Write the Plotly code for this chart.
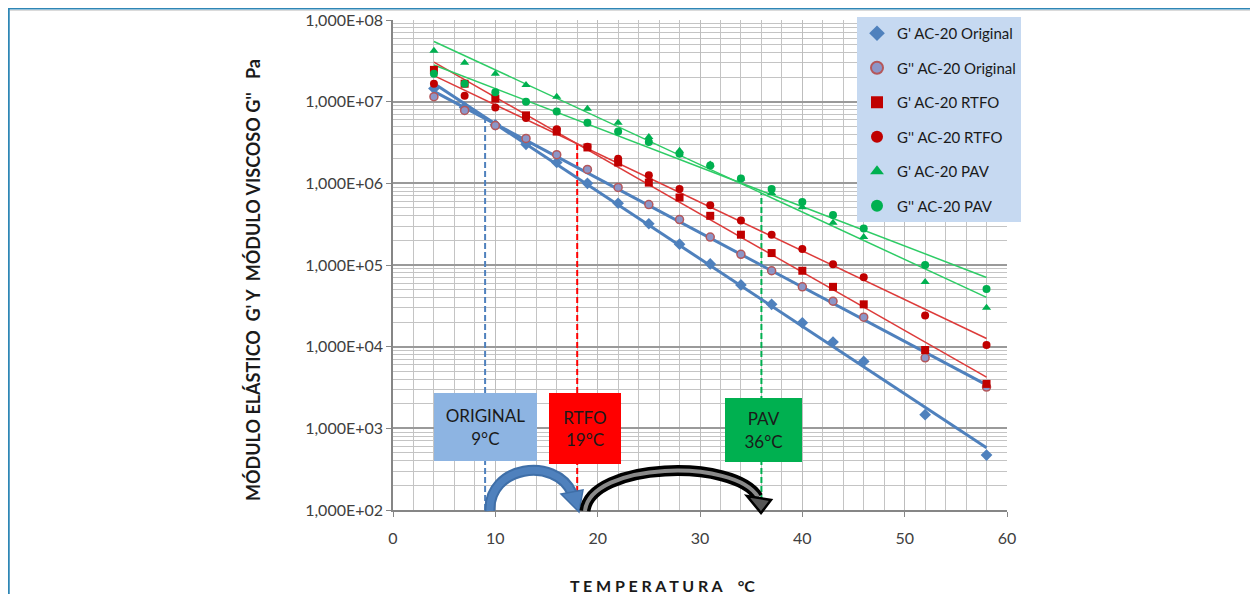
import numpy as np
import plotly.graph_objects as go

# ---------------- data ----------------
temperature = [4, 7, 10, 13, 16, 19, 22, 25, 28, 31, 34, 37, 40, 43, 46, 52, 58]

g1_original = [1.45e7, 8.5e6, 5.2e6, 3.0e6, 1.8e6, 1.0e6, 5.7e5, 3.2e5, 1.8e5, 1.03e5,
               5.7e4, 3.3e4, 1.96e4, 1.14e4, 6.6e3, 1.47e3, 4.7e2]
g2_original = [1.15e7, 7.8e6, 5.1e6, 3.55e6, 2.24e6, 1.48e6, 8.9e5, 5.5e5, 3.6e5, 2.2e5,
               1.35e5, 8.5e4, 5.4e4, 3.6e4, 2.3e4, 7.3e3, 3.2e3]
g1_rtfo = [2.45e7, 1.66e7, 1.09e7, 6.8e6, 4.3e6, 2.75e6, 1.8e6, 1.02e6, 6.7e5, 4.0e5,
           2.35e5, 1.4e5, 8.5e4, 5.4e4, 3.3e4, 9.1e3, 3.5e3]
g2_rtfo = [1.66e7, 1.18e7, 8.5e6, 6.3e6, 4.6e6, 2.8e6, 2.0e6, 1.26e6, 8.5e5, 5.4e5,
           3.5e5, 2.35e5, 1.57e5, 1.02e5, 7.1e4, 2.4e4, 1.05e4]
g1_pav = [4.2e7, 3.0e7, 2.2e7, 1.6e7, 1.15e7, 8.2e6, 5.5e6, 3.7e6, 2.5e6, 1.7e6,
          1.15e6, 7.6e5, 5.1e5, 3.3e5, 2.2e5, 6.2e4, 3.0e4]
g2_pav = [2.2e7, 1.66e7, 1.3e7, 1.0e7, 7.6e6, 5.5e6, 4.3e6, 3.2e6, 2.3e6, 1.65e6,
          1.15e6, 8.5e5, 5.9e5, 4.1e5, 2.8e5, 1.0e5, 5.1e4]

series_names = ["G' AC-20 Original", "G'' AC-20 Original", "G' AC-20 RTFO",
                "G'' AC-20 RTFO", "G' AC-20 PAV", "G'' AC-20 PAV"]

crit_temps = [9, 18, 36]
box_labels = ["ORIGINAL<br>9°C", "RTFO<br>19°C", "PAV<br>36°C"]

y_tickvals = [1e2, 1e3, 1e4, 1e5, 1e6, 1e7, 1e8]
y_ticktext = ["1,000E+02", "1,000E+03", "1,000E+04", "1,000E+05",
              "1,000E+06", "1,000E+07", "1,000E+08"]
x_tickvals = [0, 10, 20, 30, 40, 50, 60]

# ---------------- layout geometry ----------------
OFF = 8                      # page body margin of the html page
W, H = 1258 - OFF, 594 - OFF
PLOT_L, PLOT_R, PLOT_T, PLOT_B = 393, 1007, 20, 510   # page coordinates
ML, MR = PLOT_L - OFF, W - (PLOT_R - OFF)
MT, MB = PLOT_T - OFF, H - (PLOT_B - OFF)
PW, PH = PLOT_R - PLOT_L, PLOT_B - PLOT_T
XMIN, XMAX = 0, 60


def px_to_x(px):
    return XMIN + (px - PLOT_L) / PW * (XMAX - XMIN)


def px_to_paper(px):
    return (px - PLOT_L) / PW


def py_to_paper(py):
    return (PLOT_B - py) / PH


def path_from_px(cmds):
    out = []
    for c in cmds:
        if isinstance(c, str):
            out.append(c)
        else:
            out.append(f"{px_to_x(c[0]):.4f},{py_to_paper(c[1]):.5f}")
    return " ".join(out)


# ---------------- styles ----------------
series = [
    (g1_original, dict(symbol="diamond", size=9, color="#4F81BD"), "#4F81BD", 3),
    (g2_original, dict(symbol="circle", size=8, color="#8C96C8",
                       line=dict(color="#B5575A", width=1.5)), "#4F81BD", 3),
    (g1_rtfo, dict(symbol="square", size=8, color="#C00000"), "#DD3B3A", 1.5),
    (g2_rtfo, dict(symbol="circle", size=8, color="#C00000"), "#DD3B3A", 1.5),
    (g1_pav, dict(symbol="triangle-up", size=8, color="#00B050"), "#2ECC66", 1.5),
    (g2_pav, dict(symbol="circle", size=8, color="#00B050"), "#2ECC66", 1.5),
]

fig = go.Figure()

T = np.array(temperature, dtype=float)
fits = [np.polyfit(T, np.log10(np.array(vals)), 1) for vals, _, _, _ in series]

# dashed critical temperature lines (up to the G' trendline of each state)
dash_colors = ["#4F81BD", "#FF0000", "#00B050"]
gprime_fit_idx = [0, 2, 4]
for t, col, fi in zip(crit_temps, dash_colors, gprime_fit_idx):
    top = 10 ** np.polyval(fits[fi], t)
    fig.add_trace(go.Scatter(x=[t, t], y=[y_tickvals[0], top], mode="lines",
                             line=dict(color=col, width=2, dash="6px,3px"),
                             showlegend=False, hoverinfo="skip"))

# exponential trendlines
tmin, tmax = min(temperature), max(temperature)
for (vals, mk, lcol, lw), coef in zip(series, fits):
    fig.add_trace(go.Scatter(x=[tmin, tmax],
                             y=[10 ** np.polyval(coef, tmin), 10 ** np.polyval(coef, tmax)],
                             mode="lines", line=dict(color=lcol, width=lw),
                             showlegend=False, hoverinfo="skip"))

# markers
for i, ((vals, mk, lcol, lw), name) in enumerate(zip(series, series_names)):
    fig.add_trace(go.Scatter(x=temperature, y=vals, mode="markers", name=name,
                             marker=mk, legendgroup=f"g{i}"))

# ---------------- axes ----------------
fig.update_xaxes(range=[XMIN, XMAX], tickvals=x_tickvals, showgrid=True,
                 gridcolor="#BDBDBD", gridwidth=1,
                 minor=dict(dtick=2, showgrid=True, gridcolor="#C4C4C4", gridwidth=1),
                 ticks="outside", ticklen=5, tickcolor="#868686",
                 showline=True, linecolor="#868686", linewidth=1.5,
                 zeroline=False, ticklabelstandoff=8,
                 tickfont=dict(family="Lato", size=16, color="#404040"))
fig.update_yaxes(type="log", range=[2, 8], tickvals=y_tickvals, ticktext=y_ticktext,
                 showgrid=True, gridcolor="#9A9A9A", gridwidth=1.5,
                 minor=dict(dtick="D1", showgrid=True, gridcolor="#C4C4C4", gridwidth=1),
                 ticks="outside", ticklen=5, tickcolor="#868686",
                 showline=True, linecolor="#868686", linewidth=1.5,
                 tickfont=dict(family="Lato", size=16, color="#404040"))

# ---------------- annotations ----------------
NB = "\u00a0"
annotations = []
annotations.append(dict(text="<b>MÓDULO ELÁSTICO" + NB * 2 + "G' Y" + NB * 2 +
                             "MÓDULO VISCOSO G''" + NB * 3 + "Pa</b>",
                        xref="paper", yref="paper", x=px_to_paper(253), y=py_to_paper(280),
                        xanchor="center", yanchor="middle",
                        textangle=-90, showarrow=False,
                        font=dict(family="Lato", size=18, color="#1a1a1a")))
annotations.append(dict(text="<b>T E M P E R A T U R A" + NB * 4 + "°C</b>",
                        xref="paper", yref="paper", x=px_to_paper(662), y=py_to_paper(585),
                        xanchor="center", yanchor="middle",
                        showarrow=False,
                        font=dict(family="Lato", size=16, color="#1a1a1a")))

box_geom = [  # (center px x, center px y, width, height, fill)  page coords
    (485.5, 427, 103, 68, "#8DB4E2"),
    (585, 428.5, 72, 71, "#FF0000"),
    (763.5, 430, 77, 64, "#00B050"),
]
for (cx, cy, bw, bh, fill), lab in zip(box_geom, box_labels):
    annotations.append(dict(text=lab, xref="x", yref="paper",
                            x=px_to_x(cx), y=py_to_paper(cy), showarrow=False,
                            xanchor="center", yanchor="middle",
                            width=bw, height=bh, bgcolor=fill, borderpad=0, borderwidth=0,
                            valign="middle", align="center",
                            font=dict(family="Lato", size=17, color="#1a1a1a")))

# ---------------- decorative shapes ----------------
shapes = []
# frame border (top + left) at the figure edge
shapes.append(dict(type="line", xref="paper", yref="paper",
                   x0=px_to_paper(OFF), x1=px_to_paper(1262),
                   y0=py_to_paper(OFF), y1=py_to_paper(OFF),
                   line=dict(color="#2E86B5", width=3)))
shapes.append(dict(type="line", xref="paper", yref="paper",
                   x0=px_to_paper(OFF + 0.5), x1=px_to_paper(OFF + 0.5),
                   y0=py_to_paper(OFF), y1=py_to_paper(600),
                   line=dict(color="#2E86B5", width=2.5)))
shapes.append(dict(type="line", xref="paper", yref="paper",
                   x0=px_to_paper(10), x1=px_to_paper(1262),
                   y0=py_to_paper(10.5), y1=py_to_paper(10.5),
                   line=dict(color="#DADADA", width=1)))

# blue curved arrow
blue_body = path_from_px(["M", (490, 511), "C", (488, 466), (555, 456), (572, 493)])
shapes.append(dict(type="path", xref="x", yref="paper", path=blue_body,
                   line=dict(color="#3F6FA8", width=11), layer="above"))
shapes.append(dict(type="path", xref="x", yref="paper", path=blue_body,
                   line=dict(color="#4F81BD", width=7), layer="above"))
blue_head = path_from_px(["M", (561, 494), "L", (583, 490), "L", (579, 512), "Z"])
shapes.append(dict(type="path", xref="x", yref="paper", path=blue_head,
                   fillcolor="#4F81BD", line=dict(color="#3F6FA8", width=1.5), layer="above"))

# black curved arrow
black_body = path_from_px(["M", (585, 511), "C", (590, 462), (735, 458), (758, 497)])
shapes.append(dict(type="path", xref="x", yref="paper", path=black_body,
                   line=dict(color="#000000", width=11), layer="above"))
shapes.append(dict(type="path", xref="x", yref="paper", path=black_body,
                   line=dict(color="#8A8A8A", width=4), layer="above"))
black_head = path_from_px(["M", (747, 496), "L", (771, 500), "L", (761, 513), "Z"])
shapes.append(dict(type="path", xref="x", yref="paper", path=black_head,
                   fillcolor="#555555", line=dict(color="#000000", width=2.5), layer="above"))

fig.update_layout(
    width=W, height=H,
    margin=dict(l=ML, r=MR, t=MT, b=MB, autoexpand=False),
    paper_bgcolor="white", plot_bgcolor="white",
    showlegend=True,
    legend=dict(x=px_to_paper(857), y=py_to_paper(17), xanchor="left", yanchor="top",
                bgcolor="#C6D9F1", font=dict(family="Lato", size=15, color="#1a1a1a"),
                tracegroupgap=12, itemsizing="constant"),
    annotations=annotations,
    shapes=shapes,
)

fig.write_html("out.html")
